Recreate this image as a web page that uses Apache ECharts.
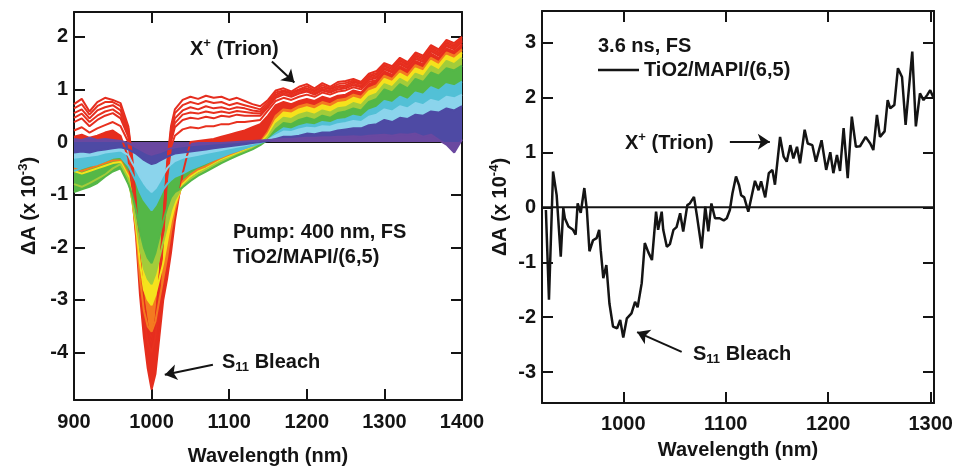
<!DOCTYPE html>
<html><head><meta charset="utf-8">
<script src="https://cdn.jsdelivr.net/npm/echarts@6/dist/echarts.min.js"></script>
<style>html,body{margin:0;padding:0;background:#fff}#c{width:955px;height:470px}</style>
</head><body><div id="c"></div>
<script>
// ---------------- LEFT PANEL DATA (ΔA x 10^-3) ----------------
const wavelengthsLeft = [
  900,910,920,930,940,950,960,970,
  975,980,985,990,995,1000,1005,1010,1015,1020,1025,1030,
  1040,1050,1060,1070,1080,1090,1100,1110,1120,1130,1140,
  1150,1160,1170,1180,1190,1200,1210,1220,1230,1240,1250,
  1260,1270,1280,1290,1300,1310,1320,1330,1340,1350,1360,1370,1380,1390,1400];

const specRed1 = [
  0.72,0.82,0.58,0.76,0.84,0.8,0.74,0.3,
  -0.3,-1.2,-2.2,-3.0,-3.5,-3.7,-3.4,-2.6,-1.5,-0.4,0.3,0.62,
  0.8,0.86,0.82,0.88,0.84,0.86,0.8,0.84,0.78,0.72,0.68,
  0.8,0.98,1.02,0.96,1.05,1.1,1.02,1.12,1.05,1.14,1.16,
  1.2,1.14,1.3,1.35,1.5,1.44,1.6,1.52,1.7,1.64,1.84,1.76,1.94,1.88,2.0];
const specRed1b = [
  0.64,0.72,0.52,0.68,0.76,0.76,0.68,0.25,
  -0.35,-1.25,-2.25,-3.05,-3.55,-3.75,-3.45,-2.65,-1.55,-0.45,0.22,0.55,
  0.7,0.76,0.72,0.78,0.74,0.76,0.7,0.74,0.7,0.66,0.62,
  0.76,0.94,0.98,0.94,1.0,1.06,0.98,1.08,1.02,1.1,1.12,
  1.17,1.12,1.27,1.31,1.47,1.41,1.57,1.49,1.67,1.61,1.81,1.73,1.91,1.85,1.97];
const specRed2 = [
  0.55,0.62,0.45,0.6,0.66,0.7,0.6,0.2,
  -0.4,-1.3,-2.3,-3.1,-3.6,-3.8,-3.5,-2.7,-1.6,-0.5,0.15,0.45,
  0.6,0.66,0.62,0.68,0.64,0.66,0.62,0.66,0.64,0.6,0.58,
  0.72,0.9,0.96,0.92,0.98,1.02,0.96,1.04,1.0,1.06,1.08,
  1.14,1.1,1.24,1.28,1.44,1.38,1.54,1.46,1.64,1.58,1.78,1.7,1.88,1.82,1.95];
const specRed2b = [
  0.46,0.54,0.38,0.5,0.58,0.62,0.52,0.15,
  -0.45,-1.35,-2.35,-3.15,-3.65,-3.85,-3.55,-2.75,-1.65,-0.55,0.08,0.36,
  0.52,0.56,0.54,0.58,0.55,0.58,0.55,0.59,0.57,0.55,0.54,
  0.69,0.87,0.93,0.89,0.95,0.99,0.93,1.01,0.97,1.03,1.05,
  1.11,1.07,1.21,1.25,1.41,1.35,1.51,1.43,1.61,1.55,1.75,1.67,1.85,1.79,1.92];
const specRed3 = [
  0.38,0.45,0.3,0.42,0.5,0.55,0.45,0.1,
  -0.5,-1.4,-2.4,-3.2,-3.7,-3.9,-3.6,-2.8,-1.7,-0.6,0.0,0.28,
  0.42,0.46,0.44,0.48,0.45,0.5,0.48,0.52,0.5,0.5,0.5,
  0.66,0.84,0.9,0.86,0.92,0.96,0.9,0.98,0.94,1.0,1.02,
  1.08,1.04,1.18,1.22,1.38,1.32,1.48,1.4,1.58,1.52,1.72,1.64,1.82,1.76,1.9];
const specRed4 = [
  0.22,0.28,0.18,0.26,0.32,0.38,0.3,0.0,
  -0.6,-1.5,-2.5,-3.3,-3.8,-4.0,-3.7,-2.9,-1.8,-0.7,-0.1,0.12,
  0.24,0.28,0.26,0.3,0.3,0.34,0.34,0.38,0.38,0.4,0.42,
  0.6,0.78,0.84,0.8,0.86,0.9,0.86,0.94,0.9,0.96,0.98,
  1.04,1.0,1.14,1.18,1.34,1.28,1.44,1.36,1.54,1.48,1.68,1.6,1.78,1.72,1.86];
const specRed5 = [
  0.1,0.14,0.08,0.12,0.18,0.22,0.12,-0.3,
  -1.0,-1.8,-2.9,-3.7,-4.3,-4.7,-4.4,-3.7,-3.0,-2.6,-2.1,-1.5,
  -0.6,0.0,0.02,0.04,0.06,0.1,0.14,0.18,0.22,0.28,0.34,
  0.5,0.7,0.76,0.72,0.78,0.82,0.78,0.86,0.82,0.88,0.9,
  0.98,0.94,1.1,1.16,1.32,1.26,1.42,1.34,1.52,1.46,1.66,1.58,1.76,1.7,1.84];
const specOrange = [
  -0.5,-0.55,-0.5,-0.45,-0.4,-0.35,-0.35,-0.6,
  -1.1,-1.7,-2.6,-3.2,-3.5,-3.6,-3.4,-3.0,-2.6,-2.2,-1.7,-1.3,
  -0.75,-0.62,-0.52,-0.46,-0.38,-0.3,-0.25,-0.2,-0.14,-0.08,0.0,
  0.2,0.5,0.62,0.6,0.68,0.72,0.68,0.76,0.72,0.8,0.82,
  0.9,0.86,1.02,1.08,1.26,1.2,1.36,1.28,1.46,1.4,1.6,1.52,1.7,1.64,1.76];
const specYellow = [
  -0.55,-0.6,-0.55,-0.5,-0.45,-0.4,-0.38,-0.65,
  -1.1,-1.6,-2.3,-2.8,-3.0,-3.1,-2.9,-2.6,-2.3,-1.9,-1.5,-1.2,
  -0.8,-0.66,-0.56,-0.5,-0.42,-0.34,-0.28,-0.22,-0.16,-0.1,-0.02,
  0.15,0.42,0.56,0.54,0.62,0.66,0.62,0.7,0.66,0.74,0.76,
  0.84,0.8,0.96,1.02,1.2,1.14,1.3,1.22,1.4,1.34,1.54,1.46,1.64,1.58,1.7];
const specYellowGreen = [
  -0.8,-0.85,-0.78,-0.7,-0.62,-0.5,-0.42,-0.7,
  -1.1,-1.5,-2.0,-2.4,-2.6,-2.7,-2.5,-2.2,-1.9,-1.6,-1.3,-1.1,
  -0.84,-0.7,-0.6,-0.52,-0.44,-0.36,-0.3,-0.24,-0.18,-0.12,-0.04,
  0.1,0.34,0.46,0.44,0.52,0.56,0.52,0.6,0.56,0.64,0.66,
  0.74,0.7,0.86,0.92,1.1,1.04,1.2,1.12,1.3,1.24,1.44,1.36,1.54,1.48,1.6];
const specGreen = [
  -0.95,-0.9,-0.85,-0.78,-0.66,-0.56,-0.5,-0.8,
  -1.0,-1.3,-1.7,-2.0,-2.2,-2.3,-2.1,-1.8,-1.5,-1.25,-1.05,-0.95,
  -0.86,-0.74,-0.64,-0.56,-0.48,-0.4,-0.33,-0.26,-0.2,-0.14,-0.06,
  0.05,0.24,0.36,0.34,0.42,0.46,0.42,0.5,0.46,0.55,0.58,
  0.64,0.6,0.76,0.82,1.0,0.94,1.1,1.02,1.2,1.14,1.32,1.26,1.4,1.36,1.45];
const specCyan = [
  -0.55,-0.5,-0.45,-0.42,-0.36,-0.3,-0.28,-0.45,
  -0.6,-0.75,-0.95,-1.1,-1.2,-1.3,-1.2,-1.05,-0.9,-0.8,-0.72,-0.66,
  -0.6,-0.52,-0.46,-0.4,-0.34,-0.28,-0.22,-0.17,-0.12,-0.07,-0.02,
  0.04,0.16,0.26,0.24,0.3,0.34,0.32,0.38,0.36,0.42,0.44,
  0.5,0.47,0.6,0.65,0.78,0.74,0.86,0.8,0.94,0.9,1.04,0.98,1.1,1.06,1.15];
const specLightBlue = [
  -0.3,-0.28,-0.26,-0.24,-0.2,-0.18,-0.16,-0.25,
  -0.4,-0.52,-0.66,-0.78,-0.88,-0.95,-0.88,-0.76,-0.62,-0.5,-0.42,-0.36,
  -0.3,-0.27,-0.24,-0.21,-0.18,-0.15,-0.12,-0.09,-0.06,-0.03,0.0,
  0.04,0.12,0.2,0.19,0.24,0.27,0.26,0.3,0.29,0.34,0.36,
  0.4,0.38,0.48,0.52,0.62,0.58,0.68,0.64,0.74,0.7,0.8,0.76,0.86,0.83,0.9];
const specIndigo = [
  -0.2,-0.18,-0.2,-0.16,-0.14,-0.12,-0.1,-0.14,
  -0.18,-0.22,-0.28,-0.34,-0.38,-0.42,-0.4,-0.36,-0.32,-0.28,-0.25,-0.22,
  -0.2,-0.18,-0.16,-0.14,-0.12,-0.1,-0.08,-0.06,-0.04,-0.02,0.0,
  0.02,0.06,0.1,0.1,0.12,0.16,0.15,0.18,0.18,0.22,0.24,
  0.26,0.26,0.32,0.34,0.42,0.38,0.46,0.44,0.52,0.5,0.58,0.56,0.64,0.6,0.68];
const specPurple = [
  0.06,0.04,0.08,0.04,0.06,0.04,0.02,-0.02,
  -0.06,-0.1,-0.14,-0.18,-0.22,-0.24,-0.22,-0.2,-0.17,-0.14,-0.12,-0.1,
  -0.08,-0.06,-0.05,-0.04,-0.03,-0.02,-0.01,0.0,0.01,0.02,0.03,
  0.04,0.05,0.06,0.06,0.07,0.08,0.08,0.09,0.09,0.1,0.1,
  0.11,0.1,0.12,0.13,0.14,0.12,0.15,0.14,0.16,0.1,0.14,0.04,-0.05,-0.2,0.05];

const leftXTicks = [900,1000,1100,1200,1300,1400];
const leftYTicks = [-4,-3,-2,-1,0,1,2];

// ---------------- RIGHT PANEL DATA (ΔA x 10^-4) ----------------
const wavelengthsRight = [
  924.5,927.5,931.5,935,939,941.5,943,946.5,951,953.5,955.5,958.5,962,964.5,967,970.5,974,976.5,978,980.5,
  983.5,986.5,990,994,997,1000,1003.5,1008,1011.5,1014,1018,1021,1024.5,1028,1032,1034,1037.5,1039,1042.5,1045.5,
  1049,1052,1055.5,1058.5,1062.5,1065,1069,1072,1076.5,1080,1083,1086,1089.5,1094,1098,1101,1104,1106.5,1110,1113,
  1115,1118,1122,1128.5,1132,1134.5,1138.5,1142,1145.5,1148,1153,1156.5,1159.5,1163,1166,1169.5,1172.5,1177,1180,1184.5,
  1188,1193.5,1198,1202,1205,1208.5,1211.5,1215,1219,1223,1227,1231,1236.5,1241,1244,1247.5,1250.5,1255,1258,1260.5,
  1264.5,1268,1272,1275.5,1282,1285.5,1289.5,1293,1296.5,1299.5,1302.5];
const deltaARight = [
  -0.05,-1.68,0.65,0.22,-0.9,-0.01,-0.2,-0.35,-0.41,-0.5,0.07,-0.1,0.35,-0.05,-0.8,-0.6,-0.56,-0.41,-0.78,-1.29,
  -1.05,-1.75,-2.17,-2.2,-2.05,-2.37,-2.02,-1.93,-1.72,-1.82,-1.38,-0.65,-0.82,-0.96,-0.08,-0.41,-0.08,-0.41,-0.72,-0.67,
  -0.41,-0.36,-0.11,-0.44,0.04,0.07,0.19,-0.17,-0.75,0.01,-0.44,0.07,-0.2,-0.2,-0.24,-0.2,-0.05,0.25,0.56,0.4,
  0.22,0.18,-0.08,0.48,0.31,0.47,0.18,0.62,0.68,0.41,1.28,0.92,0.83,1.13,0.89,1.1,0.8,1.41,1.16,1.13,
  0.83,1.22,0.68,1.0,0.62,0.95,0.66,1.44,0.53,1.65,1.1,1.11,1.28,1.16,1.04,1.68,1.28,1.38,1.95,1.8,
  1.86,2.53,2.37,1.5,2.83,1.47,2.07,1.95,2.04,2.13,2.0];
const rightXTicks = [1000,1100,1200,1300];
const rightYTicks = [-3,-2,-1,0,1,2,3];

// axis ranges
const LX = [900, 1400], LY = [-4.9, 2.47];
const RX = [920.7, 1303.2], RY = [-3.56, 3.57];

// annotation arrow anchors (data coords)
const leftTrionArrow = [[1155, 1.53], [1184, 1.13]];
const leftBleachArrow = [[1079, -4.23], [1017, -4.42]];
const rightTrionArrow = [[1104, 1.19], [1143, 1.19]];
const rightBleachArrow = [[1057, -2.63], [1013.5, -2.27]];

// ---------------- STYLE ----------------
const FONT = "'Liberation Sans', Arial, Helvetica, sans-serif";
const INK = '#141414';
const rich = {
  b:   {fontFamily: FONT, fontWeight: 'bold', fontSize: 20, lineHeight: 24, color: INK},
  sup: {fontFamily: FONT, fontWeight: 'bold', fontSize: 13, lineHeight: 12, verticalAlign: 'top', color: INK},
  sub: {fontFamily: FONT, fontWeight: 'bold', fontSize: 13, lineHeight: 8, verticalAlign: 'bottom', color: INK}
};

const leftSpectra = [
  {d: specRed1, c: '#e52d1f', fill: false},
  {d: specRed1b, c: '#e8311f', fill: false},
  {d: specRed2, c: '#e52d1f', fill: false},
  {d: specRed2b, c: '#e8311f', fill: false},
  {d: specRed3, c: '#e52d1f', fill: false},
  {d: specRed4, c: '#e8311f', fill: false},
  {d: specRed5, c: '#e62e1e', fill: true},
  {d: specOrange, c: '#f47a20', fill: true},
  {d: specYellow, c: '#f5e21c', fill: true},
  {d: specYellowGreen, c: '#a3cc3a', fill: true},
  {d: specGreen, c: '#54b747', fill: true},
  {d: specCyan, c: '#52c0d6', fill: true},
  {d: specLightBlue, c: '#8bd4ec', fill: true},
  {d: specIndigo, c: '#4e4aa4', fill: true},
  {d: specPurple, c: '#6a48a0', fill: true}
];

const plain = v => String(v);

function axis(kind, gridIndex, position, range, ticks, labels, margin, extra) {
  return Object.assign({
    type: 'value', gridIndex, position, min: range[0], max: range[1],
    axisLine: {show: true, onZero: false, lineStyle: {color: INK, width: 2}},
    axisTick: {show: true, inside: true, length: 11, customValues: ticks, lineStyle: {color: INK, width: 2}},
    axisLabel: {show: labels, customValues: ticks, formatter: plain, margin: margin,
      fontFamily: FONT, fontWeight: 'bold', fontSize: 20, color: INK},
    splitLine: {show: false}
  }, extra || {});
}

const arrowMark = (arrows) => ({
  silent: true, animation: false,
  symbol: ['none', 'arrow'], symbolSize: 12,
  lineStyle: {color: INK, width: 2, type: 'solid'},
  itemStyle: {color: INK},
  label: {show: false},
  data: arrows.map(a => [{coord: a[0]}, {coord: a[1]}])
});

const series = [];
// zero line, left
series.push({type: 'line', xAxisIndex: 0, yAxisIndex: 0, symbol: 'none', silent: true, z: 1,
  data: [[LX[0], 0], [LX[1], 0]], lineStyle: {color: INK, width: 2}});
leftSpectra.forEach((s, k) => {
  series.push({
    type: 'line', xAxisIndex: 0, yAxisIndex: 0, symbol: 'none', silent: true,
    data: wavelengthsLeft.map((w, i) => [w, s.d[i]]),
    lineStyle: {color: s.c, width: 2},
    itemStyle: {color: s.c},
    areaStyle: s.fill ? {color: s.c, opacity: 1} : undefined,
    markLine: k === leftSpectra.length - 1 ? arrowMark([leftTrionArrow, leftBleachArrow]) : undefined
  });
});
// right panel
series.push({type: 'line', xAxisIndex: 2, yAxisIndex: 2, symbol: 'none', silent: true, z: 1,
  data: [[RX[0], 0], [RX[1], 0]], lineStyle: {color: INK, width: 2}});
series.push({
  name: 'TiO2/MAPI/(6,5)', type: 'line', xAxisIndex: 2, yAxisIndex: 2, symbol: 'none', silent: true,
  data: wavelengthsRight.map((w, i) => [w, deltaARight[i]]),
  lineStyle: {color: INK, width: 2.5},
  itemStyle: {color: INK},
  markLine: arrowMark([rightTrionArrow, rightBleachArrow])
});

const gtext = (left, top, text) => ({type: 'text', left, top, silent: true,
  style: {text, rich, fill: INK}});

const nameStyle = {fontFamily: FONT, fontWeight: 'bold', fontSize: 20, color: INK};

const option = {
  animation: false,
  backgroundColor: '#fff',
  grid: [
    {left: 74, top: 12, width: 388, height: 388, containLabel: false, outerBoundsMode: 'none'},
    {left: 542, top: 11, width: 392, height: 392, containLabel: false, outerBoundsMode: 'none'}
  ],
  xAxis: [
    axis('x', 0, 'bottom', LX, leftXTicks, true, 12, {name: 'Wavelength (nm)', nameLocation: 'middle', nameGap: 46,
      nameTextStyle: nameStyle}),
    axis('x', 0, 'top', LX, leftXTicks, false, 9),
    axis('x', 1, 'bottom', RX, rightXTicks, true, 11, {name: 'Wavelength (nm)', nameLocation: 'middle', nameGap: 37,
      nameTextStyle: nameStyle}),
    axis('x', 1, 'top', RX, rightXTicks, false, 9)
  ],
  yAxis: [
    axis('y', 0, 'left', LY, leftYTicks, true, 6, {name: '{b|ΔA (x 10}{sup|-3}{b|)}', nameLocation: 'middle', nameGap: 33,
      nameRotate: 90, nameTextStyle: {rich}}),
    axis('y', 0, 'right', LY, leftYTicks, false, 6),
    axis('y', 1, 'left', RY, rightYTicks, true, 6, {name: '{b|ΔA (x 10}{sup|-4}{b|)}', nameLocation: 'middle', nameGap: 30,
      nameRotate: 90, nameTextStyle: {rich}}),
    axis('y', 1, 'right', RY, rightYTicks, false, 6)
  ],
  legend: {
    data: ['TiO2/MAPI/(6,5)'], left: 598, top: 60, padding: 0, itemWidth: 41, itemHeight: 2.5,
    icon: 'rect', selectedMode: false,
    textStyle: {fontFamily: FONT, fontWeight: 'bold', fontSize: 20, color: INK}
  },
  graphic: [
    gtext(190, 37, '{b|X}{sup|+}{b| (Trion)}'),
    gtext(233, 222, '{b|Pump: 400 nm, FS}'),
    gtext(233, 247, '{b|TiO2/MAPI/(6,5)}'),
    gtext(222, 352, '{b|S}{sub|11}{b| Bleach}'),
    gtext(598, 36, '{b|3.6 ns, FS}'),
    gtext(625, 131, '{b|X}{sup|+}{b| (Trion)}'),
    gtext(693, 344, '{b|S}{sub|11}{b| Bleach}')
  ],
  series
};

const chart = echarts.init(document.getElementById('c'), null, {renderer: 'canvas'});
chart.setOption(option);
</script>
</body></html>
